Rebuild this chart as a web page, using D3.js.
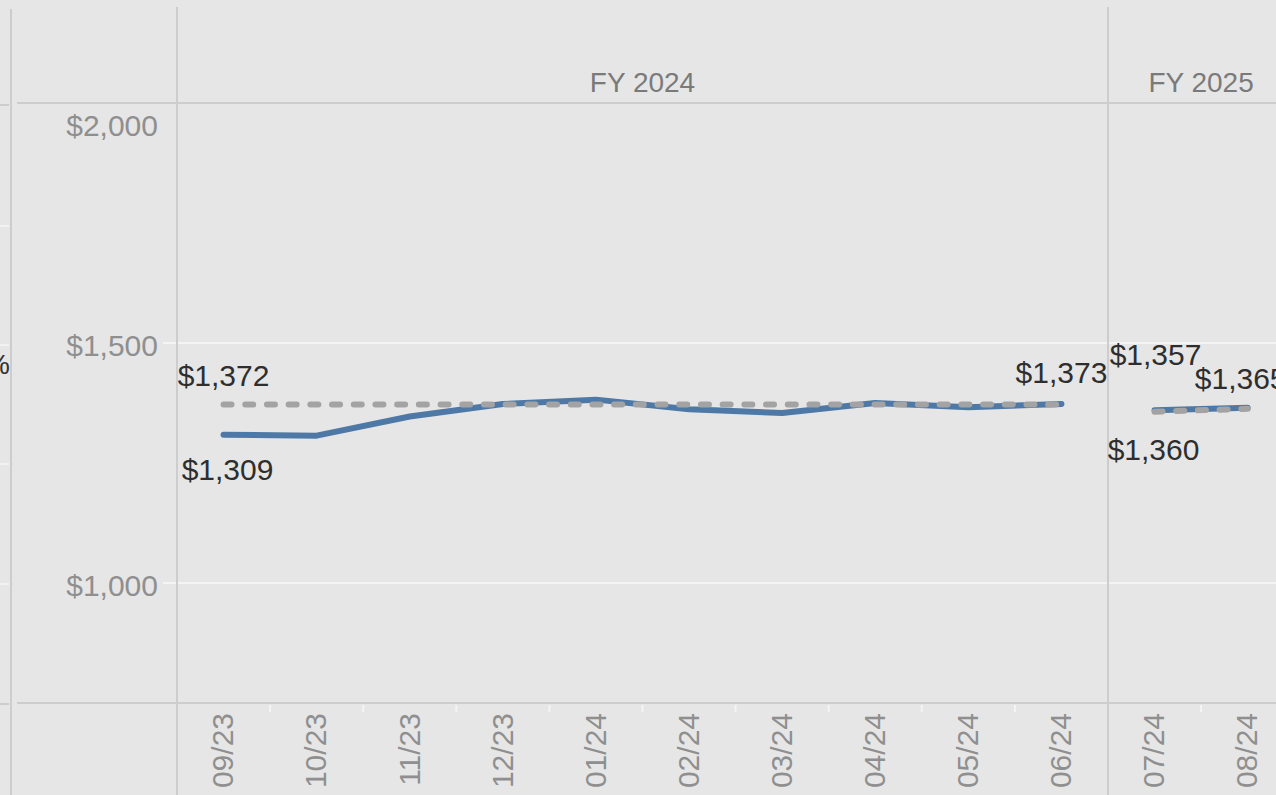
<!DOCTYPE html>
<html>
<head>
<meta charset="utf-8">
<script src="https://cdn.jsdelivr.net/npm/d3@7"></script>
<style>
  html, body { margin: 0; padding: 0; background: #e6e6e6; overflow: hidden; }
  svg { display: block; }
  text { font-family: "Liberation Sans", Arial, sans-serif; }
</style>
</head>
<body>
<svg id="chart" width="1276" height="795"></svg>
<script>
// ---- data ----
const months = ["09/23","10/23","11/23","12/23","01/24","02/24","03/24","04/24","05/24","06/24","07/24","08/24"];
const fiscalYears = ["FY 2024","FY 2024","FY 2024","FY 2024","FY 2024","FY 2024","FY 2024","FY 2024","FY 2024","FY 2024","FY 2025","FY 2025"];
const actualValues = [1309, 1307, 1347, 1373, 1382, 1362, 1354, 1375, 1366, 1373, 1360, 1365];
const referenceValues = [1372, 1372, 1372, 1372, 1372, 1372, 1372, 1372, 1372, 1372, 1357, 1363];
const yTicks = [1000, 1500, 2000];
const yDomain = [750, 2000];

// label placement (which point, which series)
const labelSpecs = [
  { series: "reference", month: "09/23", dy: -29, dx: 0 },
  { series: "actual", month: "09/23", dy: 35, dx: 4 },
  { series: "actual", month: "06/24", dy: -31, dx: 0 },
  { series: "reference", month: "07/24", dy: -57, dx: 1 },
  { series: "actual", month: "07/24", dy: 39, dx: -1 },
  { series: "actual", month: "08/24", dy: -29, dx: -7 }
];

// ---- layout ----
const W = 1276, H = 795;
const paneLeft = 177, headerY = 103, axisY = 703;
const bandW = 93.1;
const svg = d3.select("#chart");
const lineCol = "#cdcdcd";

const fyList = Array.from(new Set(fiscalYears));
const panes = [];
let xStart = paneLeft;
fyList.forEach(f => {
  const ms = months.filter((m, j) => fiscalYears[j] === f);
  const scale = d3.scaleBand().domain(ms).range([xStart, xStart + bandW * ms.length]).paddingInner(0).paddingOuter(0);
  panes.push({ fy: f, months: ms, x: scale, x0: xStart, x1: xStart + bandW * ms.length });
  xStart += bandW * ms.length;
});
const y = d3.scaleLinear().domain(yDomain).range([axisY, headerY]);
const fmt = d3.format("$,.0f");

// left partial panel artefacts
[226, 345, 464, 584].forEach(v => {
  svg.append("line").attr("x1", 0).attr("x2", 9).attr("y1", v).attr("y2", v)
    .attr("stroke", "#f2f2f2").attr("stroke-width", 2);
});
[105, 704].forEach(v => {
  svg.append("line").attr("x1", 0).attr("x2", 9).attr("y1", v).attr("y2", v)
    .attr("stroke", lineCol).attr("stroke-width", 2);
});
svg.append("text").attr("x", -15).attr("y", 374).attr("font-size", 28).attr("fill", "#333").text("%");

// gridlines
yTicks.filter(t => t < yDomain[1]).forEach(t => {
  svg.append("line").attr("x1", 163).attr("x2", W).attr("y1", y(t)).attr("y2", y(t))
    .attr("stroke", "#f4f4f4").attr("stroke-width", 2);
});

// header & axis lines
svg.append("line").attr("x1", 17).attr("x2", W).attr("y1", headerY).attr("y2", headerY)
  .attr("stroke", lineCol).attr("stroke-width", 2);
svg.append("line").attr("x1", 17).attr("x2", W).attr("y1", axisY).attr("y2", axisY)
  .attr("stroke", lineCol).attr("stroke-width", 2);

// vertical dividers
svg.append("line").attr("x1", 11).attr("x2", 11).attr("y1", 9).attr("y2", H)
  .attr("stroke", lineCol).attr("stroke-width", 2);
panes.forEach(p => {
  svg.append("line").attr("x1", p.x0).attr("x2", p.x0).attr("y1", 7).attr("y2", H)
    .attr("stroke", lineCol).attr("stroke-width", 2);
});

// y axis labels
const yAxisG = svg.append("g");
yTicks.forEach(t => {
  const yy = t === yDomain[1] ? y(t) + 22 : y(t) + 2;
  yAxisG.append("text").attr("x", 158).attr("y", yy).attr("dy", "0.35em")
    .attr("text-anchor", "end").attr("font-size", 30).attr("fill", "#8f8f8f")
    .text(fmt(t));
});

// headers
panes.forEach(p => {
  svg.append("text").attr("x", (p.x0 + p.x1) / 2).attr("y", 82).attr("dy", "0.35em")
    .attr("text-anchor", "middle").attr("font-size", 28).attr("fill", "#7a7a7a").text(p.fy);
});

// x axis ticks and labels
panes.forEach(p => {
  p.months.forEach((m, i) => {
    if (i > 0) {
      const bx = p.x(m);
      svg.append("line").attr("x1", bx).attr("x2", bx).attr("y1", axisY + 2).attr("y2", axisY + 9)
        .attr("stroke", "#f4f4f4").attr("stroke-width", 2);
    }
    const cx = p.x(m) + p.x.bandwidth() / 2;
    svg.append("text")
      .attr("transform", `translate(${cx - 1},${axisY + 10}) rotate(-90)`)
      .attr("text-anchor", "end").attr("dy", "0.36em")
      .attr("font-size", 30).attr("fill", "#8f8f8f").text(m);
  });
});

// lines
const seriesDefs = [
  { key: "actual", values: actualValues, color: "#4e79a7", dash: null },
  { key: "reference", values: referenceValues, color: "#a3a3a3", dash: "8,13.7" }
];
function px(m) {
  const p = panes.find(pp => pp.months.includes(m));
  return p.x(m) + p.x.bandwidth() / 2;
}
seriesDefs.forEach(s => {
  panes.forEach(p => {
    const pts = p.months.map(m => ({ m, v: s.values[months.indexOf(m)] }));
    const line = d3.line().x(d => px(d.m)).y(d => y(d.v));
    svg.append("path").attr("d", line(pts)).attr("fill", "none")
      .attr("stroke", s.color).attr("stroke-width", 6)
      .attr("stroke-linecap", "round").attr("stroke-linejoin", "round")
      .attr("stroke-dasharray", s.dash);
  });
});

// labels
labelSpecs.forEach(l => {
  const s = seriesDefs.find(d => d.key === l.series);
  const i = months.indexOf(l.month);
  const v = s.values[i];
  svg.append("text").attr("x", px(l.month) + l.dx).attr("y", y(v) + l.dy).attr("dy", "0.35em")
    .attr("text-anchor", "middle").attr("font-size", 30).attr("fill", "#2e2e2e")
    .text(fmt(v));
});
</script>
</body>
</html>
